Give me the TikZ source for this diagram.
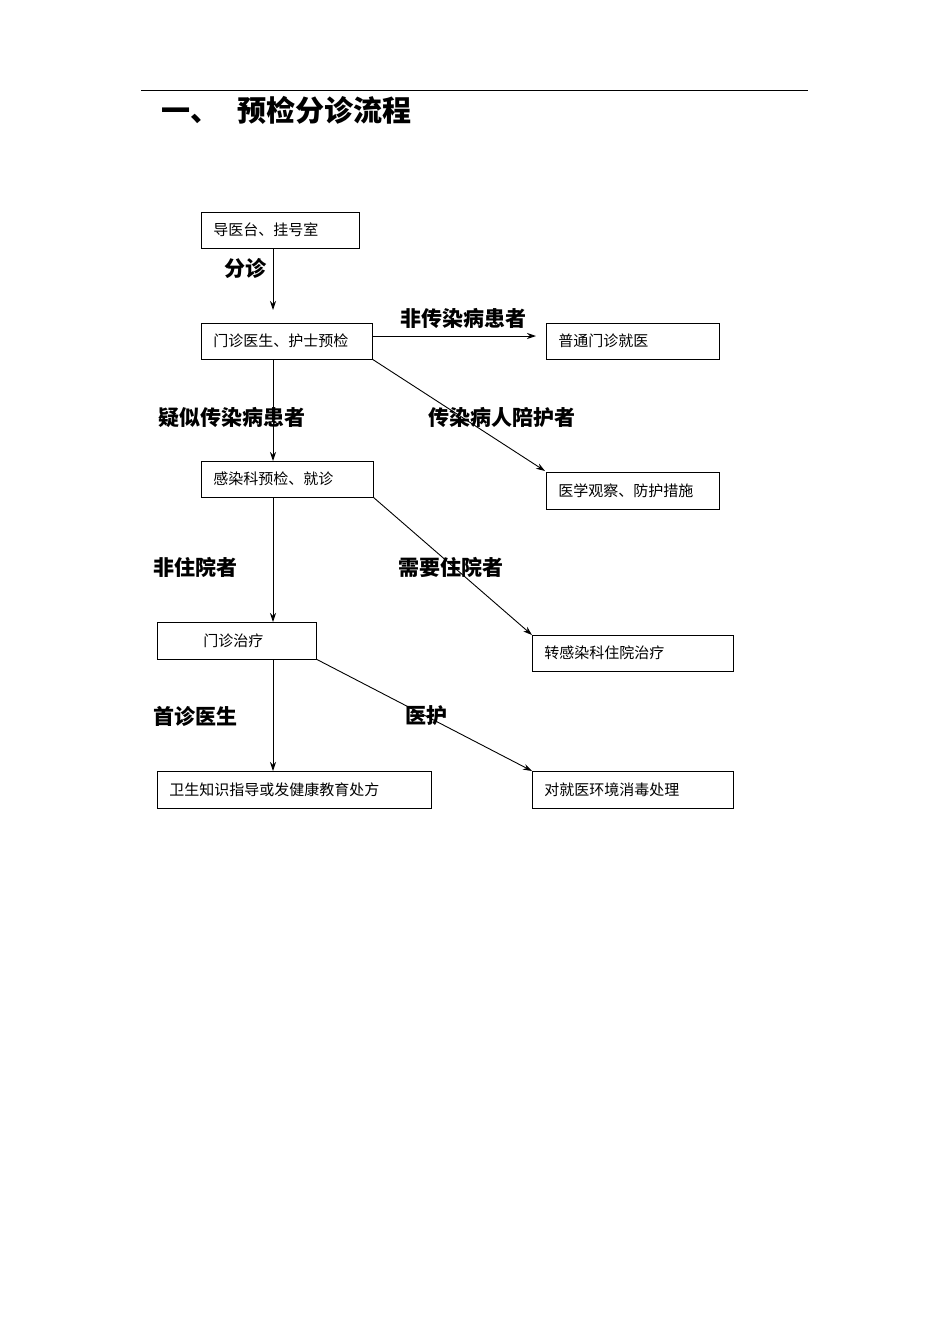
\documentclass[tikz,border=0pt]{standalone}
\usepackage{fontspec}
\newfontfamily\cjk{Noto Sans CJK SC}
\usetikzlibrary{arrows.meta}
\begin{document}
\begin{tikzpicture}[x=1pt,y=-1pt,
  box/.style={draw,line width=0.9pt,inner sep=0pt,font=\cjk\fontsize{15}{15}\selectfont},
  lab/.style={font=\cjk\bfseries\fontsize{21}{21}\selectfont},
  arr/.style={-{Stealth[length=9pt,width=6pt]},line width=0.9pt}]
\useasboundingbox (0,0) rectangle (950,1344);
\draw[line width=0.8pt] (141,90) -- (808,90);
\node[anchor=west,font=\cjk\bfseries\fontsize{29}{29}\selectfont] (title) at (158,110) {一、\hspace{18pt}预检分诊流程};
\newcommand{\bx}[6]{\draw[line width=0.9pt] (#1,#2) rectangle (#3,#4); \node[box,draw=none,anchor=west] (#6) at (#1+12,{(#2+#4)/2}) {#5}; \coordinate (#6NW) at (#1,#2); \coordinate (#6SE) at (#3,#4);}
\bx{201}{212}{359}{248}{导医台、挂号室}{a}
\bx{201}{323}{372}{359}{门诊医生、护士预检}{b}
\bx{546}{323}{719}{359}{普通门诊就医}{c}
\bx{201}{461}{373}{497}{感染科预检、就诊}{d}
\bx{546}{472}{719}{509}{医学观察、防护措施}{e}
\bx{157}{622}{316}{659}{\hspace{34pt}门诊治疗}{f}
\bx{532}{635}{733}{671}{转感染科住院治疗}{g}
\bx{157}{771}{431}{808}{卫生知识指导或发健康教育处方}{h}
\bx{532}{771}{733}{808}{对就医环境消毒处理}{i}
\coordinate (p1) at (273,248); \coordinate (p2) at (273,310);
\draw[arr] (p1) -- (p2);
\coordinate (q1) at (372,336); \coordinate (q2) at (536,336);
\draw[arr] (q1) -- (q2);
\draw[arr] (bSE) -- (545,471);
\draw[arr] (273,359) -- (273,461);
\draw[arr] (273,497) -- (273,622);
\draw[arr] (dSE) -- (532,635);
\draw[arr] (273,659) -- (273,771);
\draw[arr] (fSE) -- (532,771);
\node[lab] (l1) at (245,268) {分诊};
\node[lab] (l2) at (463,318) {非传染病患者};
\node[lab] (l3) at (232,417) {疑似传染病患者};
\node[lab] (l4) at (502,417) {传染病人陪护者};
\node[lab] (l5) at (195,567) {非住院者};
\node[lab] (l6) at (451,567) {需要住院者};
\node[lab] (l7) at (195,716) {首诊医生};
\node[lab] (l8) at (426,716) {医护};
\end{tikzpicture}
\end{document}
